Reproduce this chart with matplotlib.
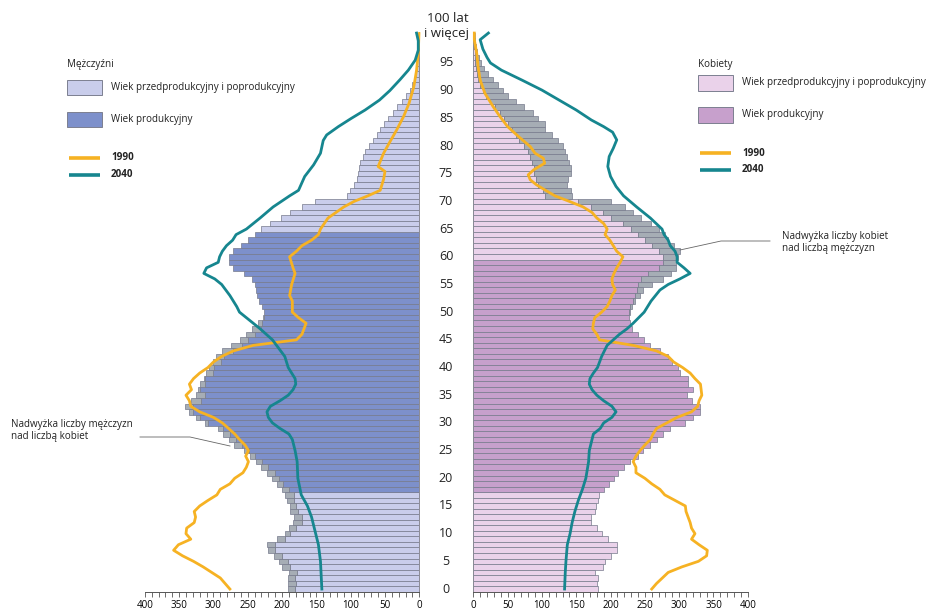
import matplotlib
matplotlib.use('Agg')
import numpy as np
import matplotlib.pyplot as plt
import matplotlib.transforms as mtransforms
from matplotlib.patches import Rectangle

plt.rcParams['font.family'] = ['Open Sans', 'DejaVu Sans']

ages = np.arange(0, 101)

# population by single year of age (thousands), 2020
men = [192, 192, 192, 190, 200, 204, 212, 221, 222, 207,
       196, 190, 184, 183, 189, 188, 193, 195, 200, 208,
       215, 222, 230, 238, 247, 255, 270, 278, 286, 294,
       312, 326, 336, 341, 333, 325, 322, 320, 314, 311,
       306, 301, 296, 287, 274, 262, 252, 244, 235, 228,
       227, 229, 233, 236, 238, 240, 244, 255, 271, 277,
       277, 271, 260, 250, 240, 230, 218, 201, 189, 171,
       152, 105, 101, 95, 91, 89, 88, 86, 82, 79,
       74, 67, 62, 57, 51, 45, 39, 32, 25, 19,
       14, 10, 7.5, 5, 4, 3, 2.5, 2, 1.5, 1.2,
       2]
women = [181, 180, 181, 178, 189, 192, 200, 210, 210, 196,
         188, 180, 171, 171, 177, 179, 182, 183, 190, 198,
         205, 211, 220, 229, 240, 248, 258, 267, 276, 286,
         308, 320, 330, 330, 318, 312, 320, 313, 313, 301,
         299, 289, 284, 272, 258, 249, 240, 231, 229, 227,
         228, 231, 236, 243, 247, 260, 276, 288, 296, 296,
         299, 301, 292, 284, 279, 271, 259, 245, 233, 221,
         201, 144, 142, 136, 138, 142, 142, 139, 136, 133,
         131, 124, 115, 105, 104, 94, 87, 74, 62, 51,
         44, 36, 29, 22, 16, 11, 8, 5, 4, 3,
         2]

# productive age: men 18-64, women 18-59
prod_men = (18, 64)
prod_women = (18, 59)

# 1990 and 2040 outlines (age, thousands)
m1990_age = [0, 2, 4, 5, 6, 7, 8, 9, 10, 11, 12, 13, 14, 15, 16, 17, 18, 19, 20, 21, 22, 23, 24, 25, 26, 27, 28, 29,
             30, 31, 32, 33, 34, 35, 36, 37, 38, 39, 40, 41, 42, 43, 44, 45, 46, 47, 48, 49, 50, 52, 53, 55, 57, 58,
             60, 61, 62, 63, 64, 65, 67, 69, 70, 71, 72, 74, 75.4, 76.3, 77.2, 78.7, 80.5, 82.9, 85.3, 87.7, 90.7,
             93.7, 96.7, 100.3]
m1990_val = [276, 290, 315, 329, 345, 358, 351, 333, 340, 339, 328, 326, 328, 320, 308, 295, 290, 276, 269, 257, 252,
             249, 253, 249, 254, 262, 269, 278, 287, 300, 320, 333, 335, 340, 332, 335, 329, 320, 308, 300, 288, 271,
             242, 179, 171, 168, 165, 176, 185, 185, 189, 186, 181, 184, 189, 179, 171, 157, 147, 144, 133, 110, 95,
             75, 57, 52, 50, 60, 57, 52, 44, 33, 23, 15, 8, 4, 1.5, 0.5]
m2040_age = [0, 5, 8, 10, 13, 15, 17, 20, 23, 25, 27, 28, 29, 30, 31, 32, 33, 34, 35, 36, 37, 38, 39, 40, 42, 44, 45,
             47, 49, 50, 51, 53, 55, 56, 57, 58, 59, 60, 61, 62, 63, 64, 65, 67, 69, 71, 72, 74.5, 76.6, 78.7, 81,
             82, 83.5, 85, 86.5, 88.3, 90, 92, 93.7, 95.5, 97.3, 99, 100.4]
m2040_val = [142, 144, 147, 151, 157, 163, 172, 177, 178, 181, 185, 190, 203, 214, 220, 222, 217, 203, 191, 184, 180,
             181, 186, 191, 196, 208, 214, 232, 252, 262, 266, 276, 288, 298, 314, 310, 293, 291, 287, 281, 272, 267,
             252, 232, 213, 189, 176, 167, 154, 144, 140, 135, 118, 99, 79, 58, 43, 28, 16, 6, 1.5, 1.5, 4]
w1990_age = [0, 1, 3, 4, 5, 6, 7, 8, 9, 10, 11, 12, 13, 14, 15, 16, 17, 18, 19, 20, 21, 22, 23, 24, 25, 26, 27, 28,
             29, 30, 31, 32, 33, 34, 35, 36, 37, 38, 39, 40, 41, 42, 43, 44, 45, 46, 47, 48, 49, 50, 51, 52, 53, 54,
             55, 56, 57, 58, 59, 60, 61, 62, 63, 64, 65, 66, 67, 68, 69, 70, 71, 72.1, 73, 73.9, 74.8, 75.7, 76.9,
             77.8, 78.7, 79.9, 81.7, 83.5, 85.3, 87.1, 89.5, 91.9, 94.3, 96.7, 99.2, 100.4]
w1990_val = [260, 267, 284, 304, 328, 340, 341, 329, 318, 323, 318, 316, 313, 310, 309, 294, 279, 272, 260, 250, 237,
             237, 233, 237, 243, 250, 258, 262, 267, 282, 297, 318, 327, 329, 333, 332, 331, 323, 316, 305, 292, 284,
             267, 233, 184, 180, 174, 175, 177, 187, 195, 199, 202, 207, 203, 202, 205, 209, 214, 218, 209, 204, 199,
             192, 195, 190, 180, 173, 160, 140, 119, 104, 92, 83, 80, 88, 104, 102, 90, 83, 66, 50, 39, 29, 17, 10, 7,
             5, 1.5, 1.5]
w2040_age = [0, 3, 5, 8, 10, 12, 14, 16, 18, 20, 23, 25, 27, 28, 29, 30, 31, 32, 33, 34, 35, 36, 37, 38, 39, 40, 42,
             44, 45, 46, 47, 48, 49, 50, 52, 54, 55, 56, 57, 58, 59, 60, 61, 62, 63, 64, 65, 67, 69, 71, 72.7, 74.5,
             76.3, 78.1, 79.6, 81.1, 82.5, 83.5, 84.7, 86.5, 88.3, 90.1, 91.9, 93.7, 95, 96, 97.5, 99.2, 100.4]
w2040_val = [133, 134, 135, 137, 141, 144, 148, 153, 159, 164, 168, 169, 173, 175, 185, 190, 202, 208, 202, 190, 180,
             173, 169, 170, 175, 181, 187, 195, 204, 213, 224, 233, 241, 249, 259, 272, 284, 301, 316, 307, 297, 297,
             294, 287, 284, 278, 275, 258, 238, 219, 208, 200, 196, 198, 204, 209, 203, 190, 172, 150, 125, 100, 71,
             41, 25, 20, 14, 10, 22]

tick_vals = list(range(0, 401, 50))

col_m_light = '#c9cdeb'
col_m_dark = '#7d90cb'
col_w_light = '#ead2ea'
col_w_dark = '#c7a0cc'
col_excess = '#a6adb5'
col_edge = '#767a8c'
col_1990 = '#f6b223'
col_2040 = '#16868f'

W, H = 927, 611
fig = plt.figure(figsize=(W / 100, H / 100), dpi=100)


def px_axes(x0, x1, ytop, ybot):
    return fig.add_axes([x0 / W, 1 - ybot / H, (x1 - x0) / W, (ybot - ytop) / H])


ax_l = px_axes(144.8, 419.3, 32.5, 591.8)
ax_r = px_axes(473.3, 747.8, 32.5, 591.8)

M = np.array(men, dtype=float)
F = np.array(women, dtype=float)
base = np.minimum(M, F)

pm = (ages >= prod_men[0]) & (ages <= prod_men[1])
pw = (ages >= prod_women[0]) & (ages <= prod_women[1])

ax_l.barh(ages, base, height=1, color=np.where(pm, col_m_dark, col_m_light),
          edgecolor=col_edge, linewidth=0.5)
ex = M > F
ax_l.barh(ages[ex], (M - F)[ex], left=base[ex], height=1, color=col_excess,
          edgecolor=col_edge, linewidth=0.5)

ax_r.barh(ages, base, height=1, color=np.where(pw, col_w_dark, col_w_light),
          edgecolor=col_edge, linewidth=0.5)
ex = F > M
ax_r.barh(ages[ex], (F - M)[ex], left=base[ex], height=1, color=col_excess,
          edgecolor=col_edge, linewidth=0.5)

for ax, a90, v90, a40, v40 in [(ax_l, m1990_age, m1990_val, m2040_age, m2040_val),
                               (ax_r, w1990_age, w1990_val, w2040_age, w2040_val)]:
    ax.plot(v90, a90, color=col_1990, lw=2.0, zorder=4, clip_on=False, solid_joinstyle='round')
    ax.plot(v40, a40, color=col_2040, lw=2.0, zorder=4, clip_on=False, solid_joinstyle='round')

ax_l.set_xlim(400, 0)
ax_r.set_xlim(0, 400)
for ax in (ax_l, ax_r):
    ax.set_ylim(-0.5, 100.5)
    ax.set_yticks([])
    ax.set_xticks(tick_vals)
    ax.set_xticks(range(0, 401, 10), minor=True)
    ax.tick_params(axis='x', which='both', length=3.5, width=0.6, color='#555555',
                   labelsize=7, pad=2.5, direction='out')
    ax.patch.set_visible(False)
    for s in ax.spines.values():
        s.set_visible(False)
    ax.spines['bottom'].set_visible(True)
    ax.spines['bottom'].set_color('#555555')
    ax.spines['bottom'].set_linewidth(0.7)
ax_l.spines['right'].set_visible(True)
ax_l.spines['right'].set_color('#8a8a95')
ax_l.spines['right'].set_linewidth(0.7)
ax_r.spines['left'].set_visible(True)
ax_r.spines['left'].set_color('#8a8a95')
ax_r.spines['left'].set_linewidth(0.7)

# age labels in the middle
tr = mtransforms.blended_transform_factory(fig.transFigure, ax_r.transData)
for a in range(0, 100, 5):
    ax_r.text(446 / W, a, str(a), transform=tr, ha='center', va='center', fontsize=9, color='#222222')

# overlay in pixel coordinates for legends and notes
ov = fig.add_axes([0, 0, 1, 1])
ov.set_xlim(0, W)
ov.set_ylim(H, 0)
ov.axis('off')
ov.patch.set_visible(False)

ov.text(448, 18, '100 lat', ha='center', va='center', fontsize=9.5, color='#222222')
ov.text(446, 34, 'i więcej', ha='center', va='center', fontsize=9.5, color='#222222')

tx = dict(fontsize=7.1, color='#222222', va='center')


def legend(x0, title_y, title, ys, light, dark):
    ov.text(x0, title_y, title, ha='left', **tx)
    ov.add_patch(Rectangle((x0, ys[0] - 7.8), 35, 15.6, facecolor=light, edgecolor='#7c7f90', lw=0.7))
    ov.text(x0 + 44, ys[0], 'Wiek przedprodukcyjny i poprodukcyjny', ha='left', **tx)
    ov.add_patch(Rectangle((x0, ys[1] - 7.8), 35, 15.6, facecolor=dark, edgecolor='#7c7f90', lw=0.7))
    ov.text(x0 + 44, ys[1], 'Wiek produkcyjny', ha='left', **tx)
    ov.plot([x0 + 2, x0 + 33], [ys[2], ys[2]], color=col_1990, lw=2.6, solid_capstyle='butt')
    ov.text(x0 + 44, ys[2], '1990', ha='left', fontweight='bold', **tx)
    ov.plot([x0 + 2, x0 + 33], [ys[3], ys[3]], color=col_2040, lw=2.6, solid_capstyle='butt')
    ov.text(x0 + 44, ys[3], '2040', ha='left', fontweight='bold', **tx)


legend(67, 64, 'Mężczyźni', [87.5, 119.5, 157.5, 174.5], col_m_light, col_m_dark)
legend(698, 64, 'Kobiety', [83, 115, 153, 169.5], col_w_light, col_w_dark)

# notes on excess
ov.plot([680, 721, 770], [250, 241, 241], color='#666666', lw=0.6)
ov.text(782, 236.5, 'Nadwyżka liczby kobiet', ha='left', **tx)
ov.text(782, 248.5, 'nad liczbą mężczyzn', ha='left', **tx)
ov.plot([140, 190, 230], [437, 437, 446], color='#666666', lw=0.6)
ov.text(11, 424, 'Nadwyżka liczby mężczyzn', ha='left', **tx)
ov.text(11, 436, 'nad liczbą kobiet', ha='left', **tx)

fig.savefig('out.png', dpi=100)
